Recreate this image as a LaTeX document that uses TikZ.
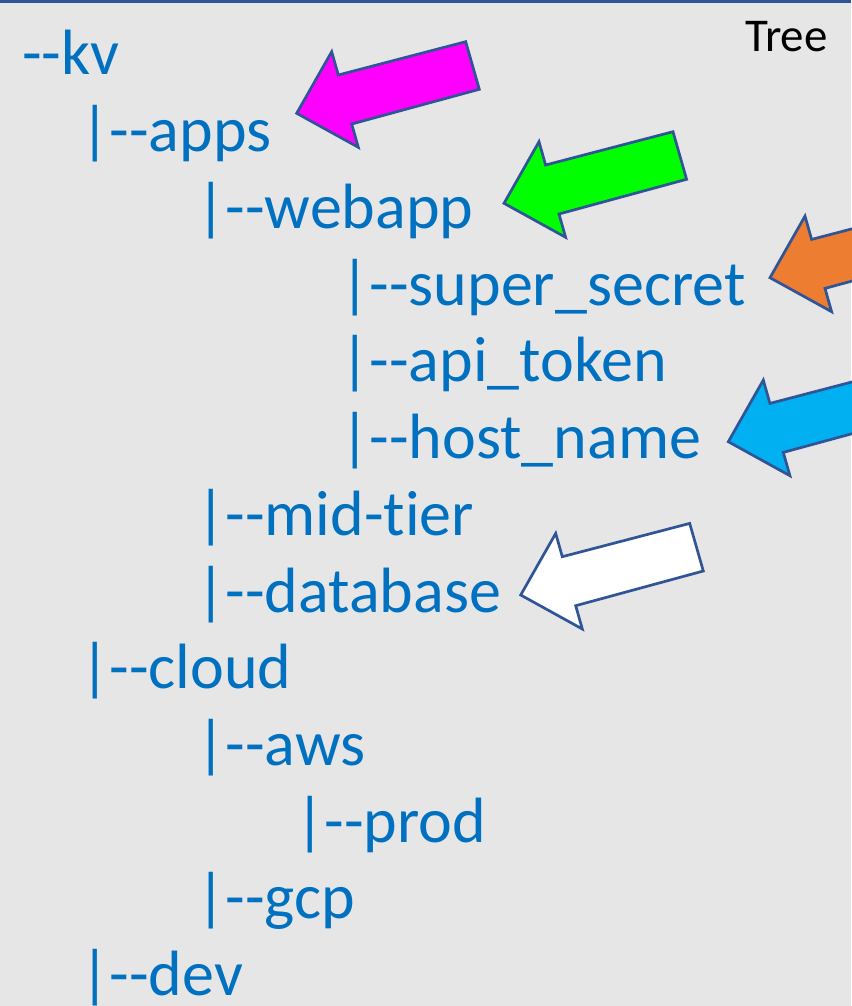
\documentclass[tikz,border=0pt]{standalone}
\usepackage{fontspec}
\newfontfamily\treefont{Carlito}[Ligatures={NoCommon,NoRare}]
\usetikzlibrary{positioning}
\definecolor{treeblue}{HTML}{0070C0}
\definecolor{pagegray}{HTML}{E7E6E6}
\definecolor{rimblue}{HTML}{2F5597}
\definecolor{ptrmagenta}{HTML}{FF00FF}
\definecolor{ptrgreen}{HTML}{00FF00}
\definecolor{ptrorange}{HTML}{ED7D31}
\definecolor{ptrcyan}{HTML}{00B0F0}
\tikzset{
entry/.style={anchor=base west,inner sep=0pt,text=treeblue,font=\treefont\fontsize{64}{77}\selectfont},
caption/.style={anchor=base west,inner sep=0pt,font=\treefont\fontsize{47}{57}\selectfont},
ptr/.style={draw=rimblue,line width=2.7pt,line join=miter},
pics/pointer/.style={code={
	\draw[ptr,fill=#1] (0,0) -- (35,-61.6) -- (41.6,-38.3) -- (169,-71.6)
		-- (182.6,-24) -- (55,10.7) -- (61.6,34) -- cycle;
}},
}
\begin{document}
\begin{tikzpicture}[x=1pt,y=-1pt]
	\useasboundingbox[fill=pagegray] (0,0) rectangle (851,1006);
	\draw[rimblue,line width=3pt] (0,1.5) -- (851,1.5);

	\node[caption] (title) at (745,51.7) {Tree};

	\node[entry] (kv) at (22,75) {--kv};
	\node[entry] (apps) at (80,151.7) {|--apps};
	\node[entry] (webapp) at (196,228.4) {|--webapp};
	\node[entry] (secret) at (340,305) {|--super\_secret};
	\node[entry] (token) at (340,381.8) {|--api\_token};
	\node[entry] (host) at (340,458.5) {|--host\_name};
	\node[entry] (midtier) at (196,535) {|--mid-tier};
	\node[entry] (database) at (196,612) {|--database};
	\node[entry] (cloud) at (80,688.7) {|--cloud};
	\node[entry] (aws) at (196,765.4) {|--aws};
	\node[entry] (prod) at (295,842) {|--prod};
	\node[entry] (gcp) at (196,918.8) {|--gcp};
	\node[entry] (dev) at (80,995.5) {|--dev};

	\pic at (296.7,113.3) {pointer=ptrmagenta};
	\pic at (504,203.3) {pointer=ptrgreen};
	\pic at (770,277.7) {pointer=ptrorange};
	\pic at (728.3,441.7) {pointer=ptrcyan};
	\pic at (520.7,595) {pointer=white};
\end{tikzpicture}
\end{document}
